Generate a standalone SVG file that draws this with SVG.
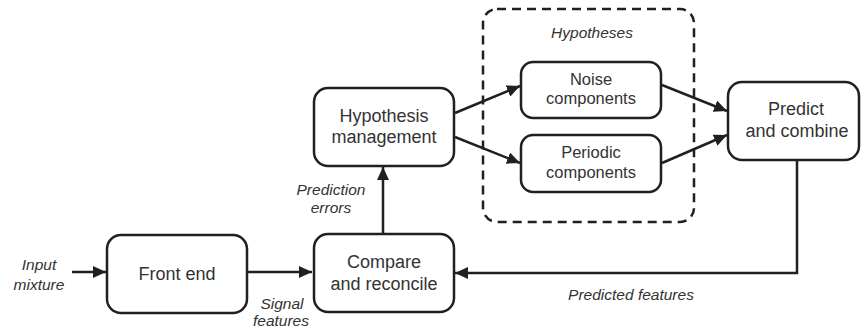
<svg xmlns="http://www.w3.org/2000/svg" width="861" height="331" viewBox="0 0 861 331">
<style>
.box{fill:#fff;stroke:#231f20;stroke-width:2.5}
.dash{fill:none;stroke:#231f20;stroke-width:2.5;stroke-dasharray:9 6}
.t{font-family:"Liberation Sans",Arial,sans-serif;font-size:18px;fill:#333;text-anchor:middle}
.s{font-family:"Liberation Sans",Arial,sans-serif;font-size:16.5px;fill:#333;text-anchor:middle}
.l{font-family:"Liberation Sans",Arial,sans-serif;font-size:15.5px;font-style:italic;fill:#333;text-anchor:middle}
.c{fill:none;stroke:#231f20;stroke-width:2.5}
</style>
<defs>
<marker id="ah" markerUnits="userSpaceOnUse" markerWidth="14" markerHeight="12" refX="13" refY="6" orient="auto">
<path d="M0,0 L13,6 L0,12 Z" fill="#231f20"/>
</marker>
</defs>
<g id="hypotheses-group">
<rect class="dash" x="483" y="9" width="211" height="213" rx="14"/>
<text class="l" x="592" y="38">Hypotheses</text>
</g>
<g id="connectors">
<line class="c" x1="72" y1="272" x2="106" y2="272" marker-end="url(#ah)"/>
<line class="c" x1="248" y1="272" x2="312" y2="272" marker-end="url(#ah)"/>
<line class="c" x1="383" y1="233" x2="383" y2="167" marker-end="url(#ah)"/>
<line class="c" x1="455" y1="113" x2="520" y2="86" marker-end="url(#ah)"/>
<line class="c" x1="455" y1="137" x2="520" y2="163" marker-end="url(#ah)"/>
<line class="c" x1="662" y1="85" x2="727" y2="111" marker-end="url(#ah)"/>
<line class="c" x1="662" y1="163" x2="727" y2="135" marker-end="url(#ah)"/>
<polyline class="c" points="797,160 797,273 455,273" marker-end="url(#ah)"/>
<text class="l" x="39" y="270">Input</text>
<text class="l" x="39" y="290">mixture</text>
<text class="l" x="282" y="309">Signal</text>
<text class="l" x="281" y="326">features</text>
<text class="l" x="331" y="195">Prediction</text>
<text class="l" x="331" y="213">errors</text>
<text class="l" x="631" y="300">Predicted features</text>
</g>
<g id="front-end">
<rect class="box" x="107" y="235" width="140" height="78" rx="14"/>
<text class="t" x="177" y="280">Front end</text>
</g>
<g id="compare-reconcile">
<rect class="box" x="314" y="234" width="140" height="78" rx="14"/>
<text class="t" x="384" y="268">Compare</text>
<text class="t" x="384" y="290">and reconcile</text>
</g>
<g id="hypothesis-management">
<rect class="box" x="314" y="88" width="140" height="78" rx="14"/>
<text class="t" x="384" y="122">Hypothesis</text>
<text class="t" x="384" y="143">management</text>
</g>
<g id="noise-components">
<rect class="box" x="521" y="62" width="140" height="56" rx="12"/>
<text class="s" x="591" y="85">Noise</text>
<text class="s" x="591" y="104">components</text>
</g>
<g id="periodic-components">
<rect class="box" x="521" y="135" width="140" height="57" rx="12"/>
<text class="s" x="591" y="158">Periodic</text>
<text class="s" x="591" y="178">components</text>
</g>
<g id="predict-combine">
<rect class="box" x="728" y="82" width="131" height="78" rx="14"/>
<text class="t" x="796" y="115">Predict</text>
<text class="t" x="797" y="137">and combine</text>
</g>
</svg>
